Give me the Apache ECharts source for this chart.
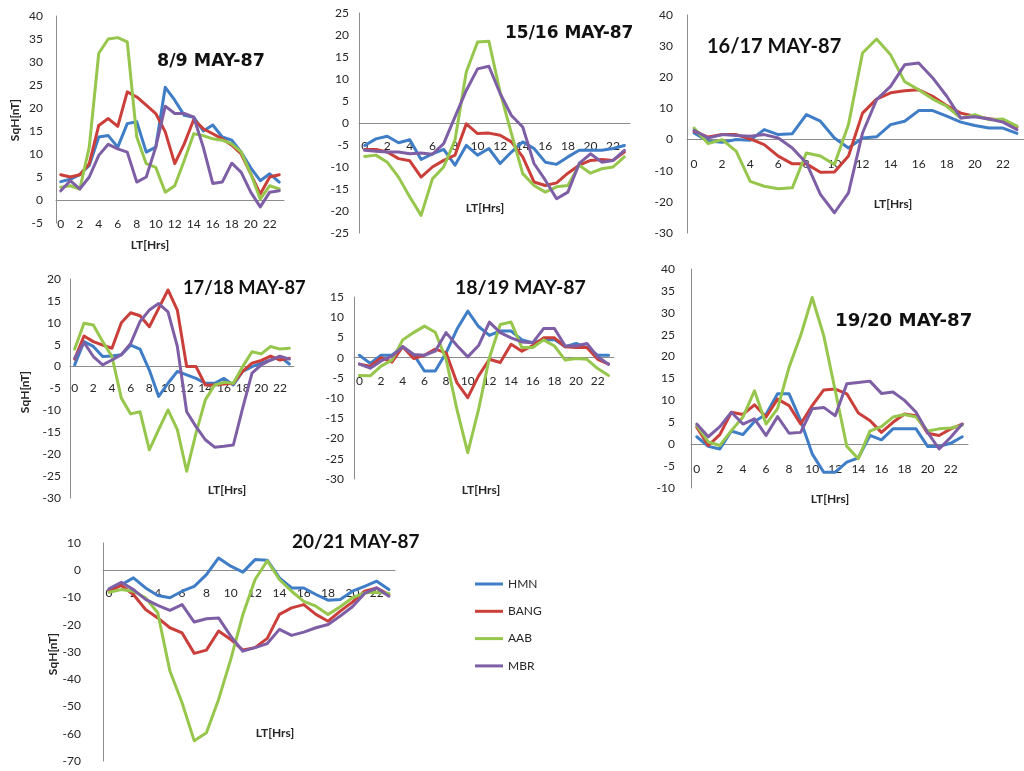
<!DOCTYPE html>
<html>
<head>
<meta charset="utf-8">
<script src="https://cdn.jsdelivr.net/npm/echarts@6/dist/echarts.min.js"></script>
<style>
  html, body { margin: 0; padding: 0; background: #ffffff; }
  #chart { width: 1024px; height: 771px; }
</style>
</head>
<body>
<div id="chart"></div>
<script>
// Local time categories (hours)
const hours = ['0','1','2','3','4','5','6','7','8','9','10','11','12','13','14','15','16','17','18','19','20','21','22','23'];

// Stations
const stations = ['HMN', 'BANG', 'AAB', 'MBR'];

// Panel titles
const panelTitles = ['8/9 MAY-87', '15/16 MAY-87', '16/17 MAY-87', '17/18 MAY-87', '18/19 MAY-87', '19/20 MAY-87', '20/21 MAY-87'];

// Value axis ranges (nT)
const yMin  = [-5, -25, -30, -30, -30, -10, -70];
const yMax  = [40, 25, 40, 20, 15, 40, 10];
const yStep = [5, 5, 10, 5, 5, 5, 10];

// SqH (nT) per hour, 8/9 May 1987
const may0809HMN  = [4, 4.5, 5.5, 7.5, 13.7, 14, 11.5, 16.6, 17, 10.4, 11.5, 24.5, 21.7, 18.4, 18, 15, 16.3, 13.7, 13, 10.4, 7, 4.2, 5.7, 3.9];
const may0809BANG = [5.5, 5, 5.5, 7.9, 16.2, 17.7, 16, 23.5, 22.4, 20.6, 18.8, 14.8, 7.9, 12.2, 17.5, 15.5, 14.4, 13.3, 11.9, 10, 5.7, 1.3, 5, 5.5];
const may0809AAB  = [2.8, 3.1, 2.4, 11.5, 31.9, 35, 35.3, 34.4, 13.7, 7.9, 7.1, 1.7, 3.1, 8.6, 14.4, 14, 13.3, 13, 12.2, 10.4, 5.7, 0.2, 3.1, 2.4];
const may0809MBR  = [2, 4.2, 2.4, 5, 9.7, 12.1, 11.1, 10.4, 3.9, 5, 11.5, 20.4, 18.8, 18.8, 18, 11.5, 3.6, 3.9, 8, 6, 1.7, -1.5, 1.7, 2];

// 15/16 May 1987
const may1516HMN  = [-5.1, -3.6, -3, -4.5, -3.8, -8.3, -7, -6, -9.6, -5.1, -7.3, -5.8, -9.2, -6.6, -4.3, -5.8, -8.9, -9.4, -7.7, -6.2, -6.2, -6.2, -5.8, -5.1];
const may1516BANG = [-6, -6, -6.6, -8.1, -8.6, -12.3, -10, -8.5, -7.3, -0.2, -2.4, -2.3, -2.8, -4.3, -7.7, -13.4, -14.2, -13.6, -11.4, -9.6, -8.5, -8.3, -8.5, -6.6];
const may1516AAB  = [-7.6, -7.3, -8.9, -12.3, -16.8, -21, -12.7, -10, -3.9, 11.6, 18.4, 18.6, 7, -2.4, -11.5, -14.2, -15.7, -14.5, -14.2, -9.6, -11.4, -10.4, -10, -7.7];
const may1516MBR  = [-6.2, -6.4, -6.6, -6.6, -7, -6.8, -7.1, -4.7, 1.4, 7.4, 12.3, 12.9, 6.7, 1.7, -0.9, -9.2, -13, -17.2, -15.7, -9.2, -7, -8.9, -8.5, -6.2];

// 16/17 May 1987
const may1617HMN  = [2.1, -0.5, -0.9, 0, -0.2, 3.2, 1.6, 1.9, 8, 5.9, 0.5, -2.7, 0.5, 0.9, 4.8, 5.9, 9.3, 9.3, 7.5, 5.6, 4.5, 3.7, 3.7, 2];
const may1617BANG = [2.7, 0.8, 1.6, 1.6, 0.2, -1.6, -5.3, -7.8, -7.8, -10.5, -10.4, -5.3, 8.5, 13, 15, 15.7, 16, 13.9, 10.9, 8.5, 7.5, 6.7, 6.2, 4];
const may1617AAB  = [3.7, -1.3, 0, -3.7, -13.4, -15, -15.8, -15.5, -4.3, -5.3, -8, 4.8, 27.8, 32.3, 27.2, 18.6, 16, 13, 10.7, 6.9, 8, 6.4, 6.6, 4.3];
const may1617MBR  = [3, 0.5, 1.6, 1.3, 1.1, 1.6, 0.5, -2.7, -7.5, -17.6, -23.5, -17.1, 2.1, 12.8, 17.1, 24, 24.6, 19.8, 13.9, 6.9, 7.3, 6.6, 5.6, 3.2];

// 17/18 May 1987
const may1718HMN  = [0.4, 5.7, 4.6, 2.3, 2.4, 2.7, 4.9, 4, -0.8, -6.8, -3.8, -1.1, -1.9, -2.7, -3.8, -3.8, -2.7, -4.2, -1.1, 0, 0.8, 1.5, 2.3, 0.6];
const may1718BANG = [1.7, 7, 5.7, 4.9, 4.2, 10, 12.3, 11.6, 9.1, 13.3, 17.5, 12.9, 0, 0, -4.2, -4.2, -4, -3.8, -1.1, 0.8, 1.4, 2.4, 1.5, 1.9];
const may1718AAB  = [4, 9.9, 9.5, 5.7, 2.3, -7.2, -10.8, -10.3, -19, -14.4, -9.9, -14.4, -23.9, -15.2, -7.6, -4.2, -3.6, -3.8, 0, 3.4, 2.9, 4.6, 4, 4.2];
const may1718MBR  = [1.9, 5.5, 2.3, 0.4, 1.5, 2.7, 5.3, 10.3, 12.9, 14.4, 12.5, 4.6, -10.3, -13.7, -16.7, -18.4, -18.2, -17.9, -9.5, -1.5, 0.4, 1.5, 2.4, 1.7];

// 18/19 May 1987
const may1819HMN  = [0.6, -1.4, 0.6, 0.6, 2.7, 0.8, -3.3, -3.3, 1.2, 7, 11.5, 7.7, 5.5, 6.6, 6.6, 4.4, 3.7, 4.4, 4.5, 2.7, 3.5, 2.5, 0.6, 0.6];
const may1819BANG = [-1.6, -2.1, 0, -1.1, 2.7, -0.2, 0.6, 2.1, 1.2, -6.2, -9.9, -4.5, -0.4, -1.2, 3.3, 1.6, 3, 4.9, 4.9, 2.7, 2.5, 2.5, -0.4, -1.6];
const may1819AAB  = [-4.4, -4.5, -2.1, -0.6, 4.4, 6.2, 7.8, 6.3, -0.4, -12.8, -23.5, -12.8, 0, 8.2, 8.8, 2.5, 2.5, 4.4, 2.9, -0.6, -0.2, -0.4, -2.7, -4.4];
const may1819MBR  = [-1.6, -2.6, -0.8, 0.4, 2.7, 0.8, 0.6, 1.6, 6.2, 3, 0.2, 3, 8.8, 6.2, 4.9, 3.9, 3.7, 7.2, 7.2, 2.9, 2.9, 3.5, 0.2, -1.6];

// 19/20 May 1987
const may1920HMN  = [1.7, -0.5, -1.1, 3, 2.2, 5.2, 6.8, 11.5, 11.5, 5.4, -2.2, -6.4, -6.4, -4.1, -3.1, 2, 1, 3.5, 3.5, 3.5, -0.5, -0.5, 0.2, 1.7];
const may1920BANG = [3.9, -0.3, 2.2, 7.3, 6.8, 9, 6.2, 10.3, 8.8, 4.6, 8.8, 12.4, 12.6, 11.5, 7.1, 5.4, 2.7, 5, 6.9, 6.5, 2.5, 2, 3.5, 4.6];
const may1920AAB  = [4.3, 0.5, -0.3, 3.1, 6.2, 12.2, 4.6, 8.1, 17.6, 24.8, 33.5, 24.8, 12.2, -0.5, -3.3, 3, 4, 6.2, 6.8, 6.2, 3, 3.5, 3.7, 4.3];
const may1920MBR  = [4.6, 1.7, 4, 7.3, 4.6, 5.8, 2, 6.3, 2.5, 2.7, 8.1, 8.4, 6.5, 13.8, 14.1, 14.4, 11.6, 11.9, 10, 7.3, 2.7, -1.1, 1.6, 4.6];

// 20/21 May 1987
const may2021HMN  = [-7.1, -5.3, -2.8, -6.5, -9.3, -10.1, -7.7, -5.9, -1.6, 4.5, 1.5, -0.7, 3.9, 3.7, -2.8, -6.5, -6.5, -8.9, -11, -10.7, -7.7, -5.9, -4, -7.1];
const may2021BANG = [-7.7, -5.6, -8.9, -14.4, -17.5, -21.1, -23, -30.5, -29.3, -22.3, -25.4, -29.3, -28.4, -25, -16.2, -13.8, -12.6, -16.2, -18.7, -15, -11.7, -7.7, -6.5, -8.9];
const may2021AAB  = [-8.1, -7.1, -7.7, -10.1, -15.6, -37, -48.6, -62.6, -59.6, -47.4, -32.7, -16.2, -3.4, 3.5, -3.4, -7.7, -11.4, -13.2, -16.2, -13.4, -10.1, -8.3, -8.1, -8.5];
const may2021MBR  = [-6.8, -4.4, -7.1, -10.7, -12.9, -14.7, -12.6, -19, -17.8, -17.5, -24.2, -29.7, -28.4, -26.9, -21.7, -23.9, -22.7, -21.1, -19.9, -16.8, -13.4, -8.5, -6.5, -9.5];

const panelData = [
  [may0809HMN, may0809BANG, may0809AAB, may0809MBR],
  [may1516HMN, may1516BANG, may1516AAB, may1516MBR],
  [may1617HMN, may1617BANG, may1617AAB, may1617MBR],
  [may1718HMN, may1718BANG, may1718AAB, may1718MBR],
  [may1819HMN, may1819BANG, may1819AAB, may1819MBR],
  [may1920HMN, may1920BANG, may1920AAB, may1920MBR],
  [may2021HMN, may2021BANG, may2021AAB, may2021MBR]
];

// Station line colours
const stationColors = ['#3F7DC6', '#CB3F3A', '#96C64C', '#7E5FA6'];

// Panel placement on the page (pixels)
const layout = [
  { left: 56,  top: 16,  width: 228, height: 207, yMargin: 13, xMargin: 18,
    title: { x: 157, y: 61, size: 17.5, font: 'DejaVu Sans' },
    xName: [150, 245], yName: [15, 120] },
  { left: 359, top: 13,  width: 271, height: 220, yMargin: 10, xMargin: 17.5,
    title: { x: 505, y: 33.5, size: 17, font: 'DejaVu Sans' },
    xName: [485, 208], yName: null },
  { left: 687, top: 15,  width: 352, height: 218, yMargin: 14, xMargin: 18.5,
    title: { x: 707, y: 46.5, size: 20, font: 'Lato' },
    xName: [893, 204], yName: null },
  { left: 70,  top: 279, width: 224, height: 219, yMargin: 9, xMargin: 15.5,
    title: { x: 183, y: 288.5, size: 18.3, font: 'Lato' },
    xName: [227, 490], yName: [25, 392] },
  { left: 354, top: 297, width: 260, height: 182, yMargin: 10, xMargin: 17,
    title: { x: 455, y: 287.5, size: 19.5, font: 'Lato' },
    xName: [481, 490], yName: null },
  { left: 691, top: 269, width: 277, height: 219, yMargin: 16, xMargin: 19,
    title: { x: 835, y: 321, size: 18.2, font: 'DejaVu Sans' },
    xName: [830, 499], yName: null },
  { left: 103, top: 543, width: 292, height: 218, yMargin: 22, xMargin: 16.5,
    title: { x: 292, y: 541.5, size: 19, font: 'Lato' },
    xName: [275, 733], yName: [53, 654] }
];

const tickFont = 'Lato, "Open Sans", sans-serif';
const grids = [], xAxes = [], yAxes = [], series = [], graphics = [];

layout.forEach((p, i) => {
  // The hour axis (line and labels) sits on the zero level of the value axis
  const zeroLift = p.height * (0 - yMin[i]) / (yMax[i] - yMin[i]);
  grids.push({ left: p.left, top: p.top, width: p.width, height: p.height, containLabel: false });
  xAxes.push({
    type: 'category', gridIndex: i, data: hours, boundaryGap: true,
    position: 'bottom', offset: -zeroLift,
    axisLine: { show: true, onZero: false, lineStyle: { color: '#8c8c8c', width: 1 } },
    axisTick: { show: false },
    axisLabel: { interval: 1, margin: p.xMargin, color: '#262626', fontSize: 12, fontFamily: tickFont },
    splitLine: { show: false }
  });
  yAxes.push({
    type: 'value', gridIndex: i, min: yMin[i], max: yMax[i], interval: yStep[i],
    axisLine: { show: true, lineStyle: { color: '#8c8c8c', width: 1 } },
    axisTick: { show: false },
    axisLabel: { margin: p.yMargin, color: '#262626', fontSize: 12, fontFamily: tickFont },
    splitLine: { show: false }
  });
  stations.forEach((name, s) => {
    series.push({
      name: name, type: 'line', xAxisIndex: i, yAxisIndex: i,
      data: panelData[i][s], symbol: 'none', smooth: false,
      lineStyle: { width: 3, color: stationColors[s], join: 'round', cap: 'round' },
      itemStyle: { color: stationColors[s] },
      emphasis: { disabled: true }, animation: false
    });
  });
  graphics.push({
    type: 'text', x: p.title.x, y: p.title.y,
    style: { text: panelTitles[i], fill: '#111111', align: 'left', verticalAlign: 'middle',
             font: 'bold ' + p.title.size + 'px ' + p.title.font + ', sans-serif' }
  });
  graphics.push({
    type: 'text', x: p.xName[0], y: p.xName[1],
    style: { text: 'LT[Hrs]', fill: '#262626', align: 'center', verticalAlign: 'middle',
             font: 'bold 12px Lato, sans-serif' }
  });
  if (p.yName) {
    graphics.push({
      type: 'text', x: p.yName[0], y: p.yName[1], rotation: Math.PI / 2,
      style: { text: 'SqH[nT]', fill: '#262626', align: 'center', verticalAlign: 'middle',
               font: 'bold 12px Lato, sans-serif' }
    });
  }
});

const chart = echarts.init(document.getElementById('chart'), null, { renderer: 'canvas' });
chart.setOption({
  backgroundColor: '#ffffff',
  animation: false,
  grid: grids,
  xAxis: xAxes,
  yAxis: yAxes,
  series: series,
  graphic: graphics,
  legend: {
    data: stations, orient: 'vertical', left: 475, top: 577, padding: 0,
    icon: 'rect', itemWidth: 28, itemHeight: 3, itemGap: 13.3,
    textStyle: { fontSize: 12, color: '#262626', fontFamily: tickFont, lineHeight: 14 },
    selectedMode: false
  }
});
</script>
</body>
</html>
